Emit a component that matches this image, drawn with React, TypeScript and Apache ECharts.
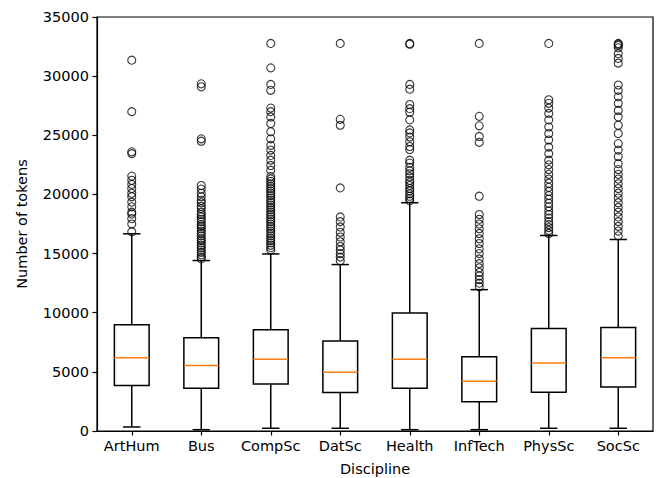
import React, { useEffect, useRef } from "react";
import * as echarts from "echarts";

const categories = ["ArtHum", "Bus", "CompSc", "DatSc", "Health", "InfTech", "PhysSc", "SocSc"];
const whiskerLow = [340, 110, 230, 230, 110, 110, 230, 230];
const q1 = [3840, 3620, 3980, 3250, 3620, 2480, 3280, 3730];
const median = [6190, 5540, 6070, 4970, 6070, 4210, 5740, 6190];
const q3 = [8980, 7880, 8560, 7600, 9970, 6270, 8670, 8750];
const whiskerHigh = [16670, 14410, 14970, 14070, 19300, 11950, 16530, 16190];

const artHumOutliers = [31350, 27000, 23600, 23450, 21550, 21200, 20850, 20500, 20100, 19800, 19350, 18950, 18500, 18350, 17950, 17500, 16850];
const busOutliers = [29350, 29100, 24700, 24500, 20750, 20450, 20100, 19800, 19500, 19300, 19000, 18800, 18500, 18300, 18100, 17900, 17700, 17450, 17300, 17100, 16900, 16700, 16500, 16250, 16100, 15900, 15700, 15500, 15300, 15100, 14900, 14700, 14550];
const compScOutliers = [32767, 30700, 29300, 28800, 27300, 27000, 26550, 26000, 25300, 24700, 24150, 23750, 23300, 22900, 22450, 22050, 21500, 21300, 21100, 20900, 20700, 20500, 20300, 20100, 19900, 19700, 19500, 19300, 19100, 18900, 18700, 18500, 18300, 18100, 17900, 17700, 17500, 17300, 17100, 16900, 16700, 16500, 16300, 16100, 15900, 15700, 15500, 15300];
const datScOutliers = [32767, 26350, 25850, 20550, 18100, 17700, 17250, 16800, 16400, 16000, 15600, 15300, 15000, 14700, 14400];
const healthOutliers = [32767, 32700, 29300, 28900, 27600, 27250, 26950, 26300, 25450, 25200, 24850, 24450, 24050, 23800, 22900, 22650, 22300, 22000, 21750, 21500, 21200, 21000, 20750, 20500, 20300, 20050, 19850, 19650, 19450];
const infTechOutliers = [32767, 26600, 25800, 24900, 24400, 19850, 18300, 17900, 17500, 17100, 16700, 16250, 15850, 15400, 15000, 14550, 14150, 13800, 13400, 13100, 12800, 12500, 12200];
const physScOutliers = [32767, 28000, 27700, 27300, 26850, 26300, 25700, 25150, 24600, 24000, 23450, 22900, 22500, 22100, 21700, 21300, 20950, 20600, 20250, 19900, 19600, 19250, 18950, 18600, 18300, 18000, 17700, 17450, 17200, 16950, 16700];
const socScOutliers = [32767, 32700, 32600, 32400, 31900, 31500, 31100, 29250, 28800, 28250, 27700, 27100, 26550, 25850, 25150, 24300, 23750, 23200, 22600, 22100, 21700, 21300, 20900, 20500, 20100, 19700, 19300, 18900, 18500, 18100, 17700, 17300, 16900, 16500];

const outliers = [artHumOutliers, busOutliers, compScOutliers, datScOutliers, healthOutliers, infTechOutliers, physScOutliers, socScOutliers];
const yTicks = [0, 35000, 5000];

const FONT = "DejaVu Sans";

export default function App() {
  const ref = useRef<HTMLDivElement>(null);
  useEffect(() => {
    if (!ref.current) return;
    const chart = echarts.init(ref.current, null, { renderer: "svg" });
    const boxData = categories.map((_, i) => [i, whiskerLow[i], q1[i], median[i], q3[i], whiskerHigh[i]]);
    const flierData: number[][] = [];
    outliers.forEach((arr, i) => arr.forEach((v) => flierData.push([i, v])));
    const lw = 1.5;
    chart.setOption({
      animation: false,
      backgroundColor: "#fff",
      textStyle: { fontFamily: FONT },
      grid: {
        left: 97, right: 6, top: 17, height: 414,
        show: true, borderColor: "#000", borderWidth: 1.2, backgroundColor: "transparent",
        outerBoundsMode: "none", containLabel: false,
      },
      xAxis: {
        type: "category",
        data: categories,
        boundaryGap: true,
        name: "Discipline",
        nameLocation: "middle",
        nameGap: 30,
        nameTextStyle: { color: "#000", fontSize: 14.5, fontFamily: FONT },
        axisLine: { show: true, lineStyle: { color: "#000", width: 1.2 } },
        axisTick: { show: true, alignWithLabel: true, length: 4.5, lineStyle: { color: "#000", width: 1.2 } },
        axisLabel: { color: "#000", fontSize: 14.5, fontFamily: FONT, margin: 7, interval: 0 },
        splitLine: { show: false },
      },
      yAxis: {
        type: "value",
        min: yTicks[0],
        max: yTicks[1],
        interval: yTicks[2],
        name: "Number of tokens",
        nameLocation: "middle",
        nameGap: 68,
        nameTextStyle: { color: "#000", fontSize: 14.5, fontFamily: FONT },
        axisLine: { show: true, lineStyle: { color: "#000", width: 1.2 } },
        axisTick: { show: true, length: 4.5, lineStyle: { color: "#000", width: 1.2 } },
        axisLabel: { color: "#000", fontSize: 14.5, fontFamily: FONT, margin: 8, formatter: (v: number) => String(v) },
        splitLine: { show: false },
      },
      series: [
        {
          type: "custom",
          data: boxData,
          encode: { x: 0, y: [1, 2, 3, 4, 5] },
          z: 2,
          renderItem: (params: any, api: any) => {
            const x = api.value(0);
            const lo = api.coord([x, api.value(1)]);
            const a = api.coord([x, api.value(2)]);
            const m = api.coord([x, api.value(3)]);
            const b = api.coord([x, api.value(4)]);
            const hi = api.coord([x, api.value(5)]);
            const band = api.size([1, 0])[0];
            const bw = band * 0.5;
            const cw = bw * 0.5;
            const cx = lo[0];
            const st = { stroke: "#000", lineWidth: lw, fill: "none" };
            return {
              type: "group",
              children: [
                { type: "line", shape: { x1: cx, y1: lo[1], x2: cx, y2: a[1] }, style: st },
                { type: "line", shape: { x1: cx, y1: b[1], x2: cx, y2: hi[1] }, style: st },
                { type: "line", shape: { x1: cx - cw / 2, y1: lo[1], x2: cx + cw / 2, y2: lo[1] }, style: st },
                { type: "line", shape: { x1: cx - cw / 2, y1: hi[1], x2: cx + cw / 2, y2: hi[1] }, style: st },
                { type: "rect", shape: { x: cx - bw / 2, y: b[1], width: bw, height: a[1] - b[1] }, style: st },
                { type: "line", shape: { x1: cx - bw / 2, y1: m[1], x2: cx + bw / 2, y2: m[1] }, style: { stroke: "#ff7f0e", lineWidth: lw } },
              ],
            };
          },
        },
        {
          type: "scatter",
          data: flierData,
          symbol: "circle",
          symbolSize: 8,
          z: 3,
          itemStyle: { color: "rgba(0,0,0,0)", borderColor: "#000", borderWidth: 1.1 },
        },
      ],
    });
    return () => chart.dispose();
  }, []);
  return <div ref={ref} style={{ width: 659, height: 478, position: "absolute", left: 0, top: 0 }} />;
}
